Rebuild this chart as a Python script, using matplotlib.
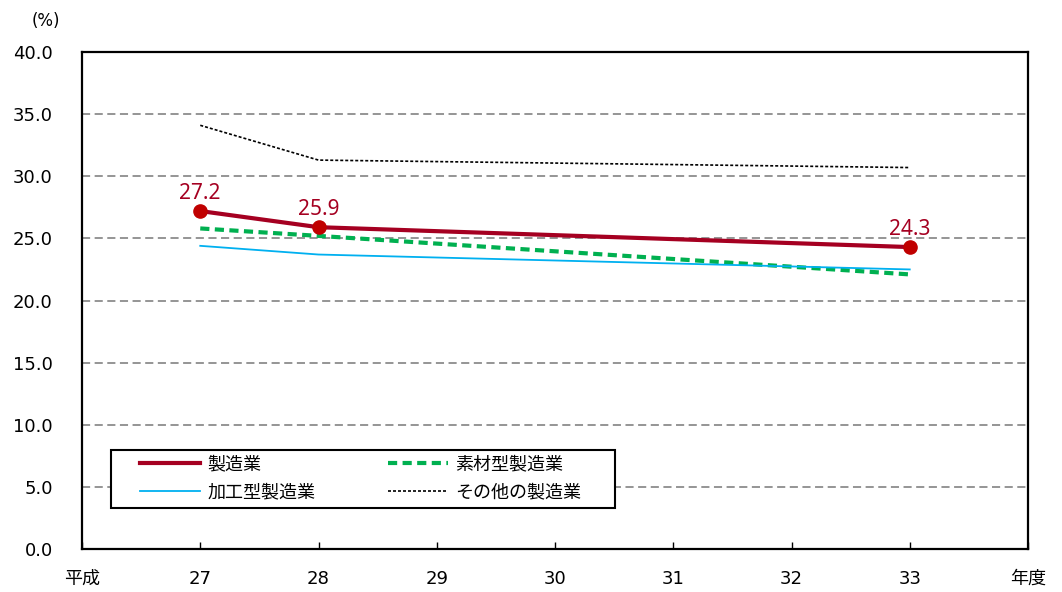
import matplotlib
matplotlib.use('Agg')
import matplotlib.pyplot as plt
from matplotlib.patches import Rectangle

plt.rcParams['font.family'] = ['DejaVu Sans', 'Noto Sans CJK JP']

# fiscal years (Heisei) with observed values
years = [27, 28, 33]
seizo = [27.2, 25.9, 24.3]
sozai = [25.8, 25.2, 22.1]
kakou = [24.4, 23.7, 22.5]
sonota = [34.1, 31.3, 30.7]

tick_pos = [26, 27, 28, 29, 30, 31, 32, 33, 34]
tick_labels = ['平成', '27', '28', '29', '30', '31', '32', '33', '年度']
y_ticks = [0, 5, 10, 15, 20, 25, 30, 35, 40]

W, H = 1062, 592
fig = plt.figure(figsize=(W / 100, H / 100), dpi=100)
ax = fig.add_axes([82 / W, 1 - 549 / H, (1028 - 82) / W, (549 - 52) / H])

for y in y_ticks[1:-1]:
    ax.axhline(y, color='#8c8c8c', lw=1.3, ls=(0, (4.5, 2.5)), zorder=1)

l_sozai, = ax.plot(years, sozai, color='#00B050', lw=3, ls=(0, (2.2, 1.3)), zorder=3)
l_kakou, = ax.plot(years, kakou, color='#00B0F0', lw=1.3, zorder=3)
l_sonota, = ax.plot(years, sonota, color='black', lw=1.2, ls=(0, (1.8, 1.2)), zorder=3)
l_seizo, = ax.plot(years, seizo, color='#A50021', lw=3, zorder=4)
ax.plot(years, seizo, 'o', color='#C00000', ms=9.5, zorder=5)

for x, v in zip(years, seizo):
    ax.text(x, v + 0.55, f'{v:.1f}', ha='center', va='bottom', fontsize=15,
            color='#A50021', family=['Noto Sans'])

ax.set_xlim(26, 34)
ax.set_ylim(0, 40)
ax.set_xticks(tick_pos)
ax.set_xticklabels(tick_labels, fontsize=13)
ax.set_yticks(y_ticks)
ax.set_yticklabels([f'{v:.1f}' for v in y_ticks], fontsize=13)
ax.tick_params(axis='x', direction='in', length=5, width=1, pad=15)
ax.tick_params(axis='y', length=0, pad=21)
for s in ax.spines.values():
    s.set_linewidth(1.6)

ax.text(-0.038, 1.045, '(%)', transform=ax.transAxes, fontsize=12, ha='center',
        va='bottom')

# legend box with white fill over the gridlines
ax.add_patch(Rectangle((29 / 946, 41 / 497), 504 / 946, 58 / 497,
                       transform=ax.transAxes, facecolor='white',
                       edgecolor='black', lw=1.5, zorder=6))
leg = ax.legend([l_seizo, l_kakou, l_sozai, l_sonota],
                ['製造業', '加工型製造業', '素材型製造業', 'その他の製造業'],
                ncol=2, loc='upper left', bbox_to_anchor=(140 / W, 1 - 455 / H),
                bbox_transform=fig.transFigure, frameon=False,
                prop={'family': ['Noto Sans CJK JP'], 'size': 13},
                handlelength=3.3, borderpad=0, borderaxespad=0,
                labelspacing=0.55, handletextpad=0.45, columnspacing=4.0)
leg.set_zorder(7)

fig.savefig('out.png', dpi=100)
